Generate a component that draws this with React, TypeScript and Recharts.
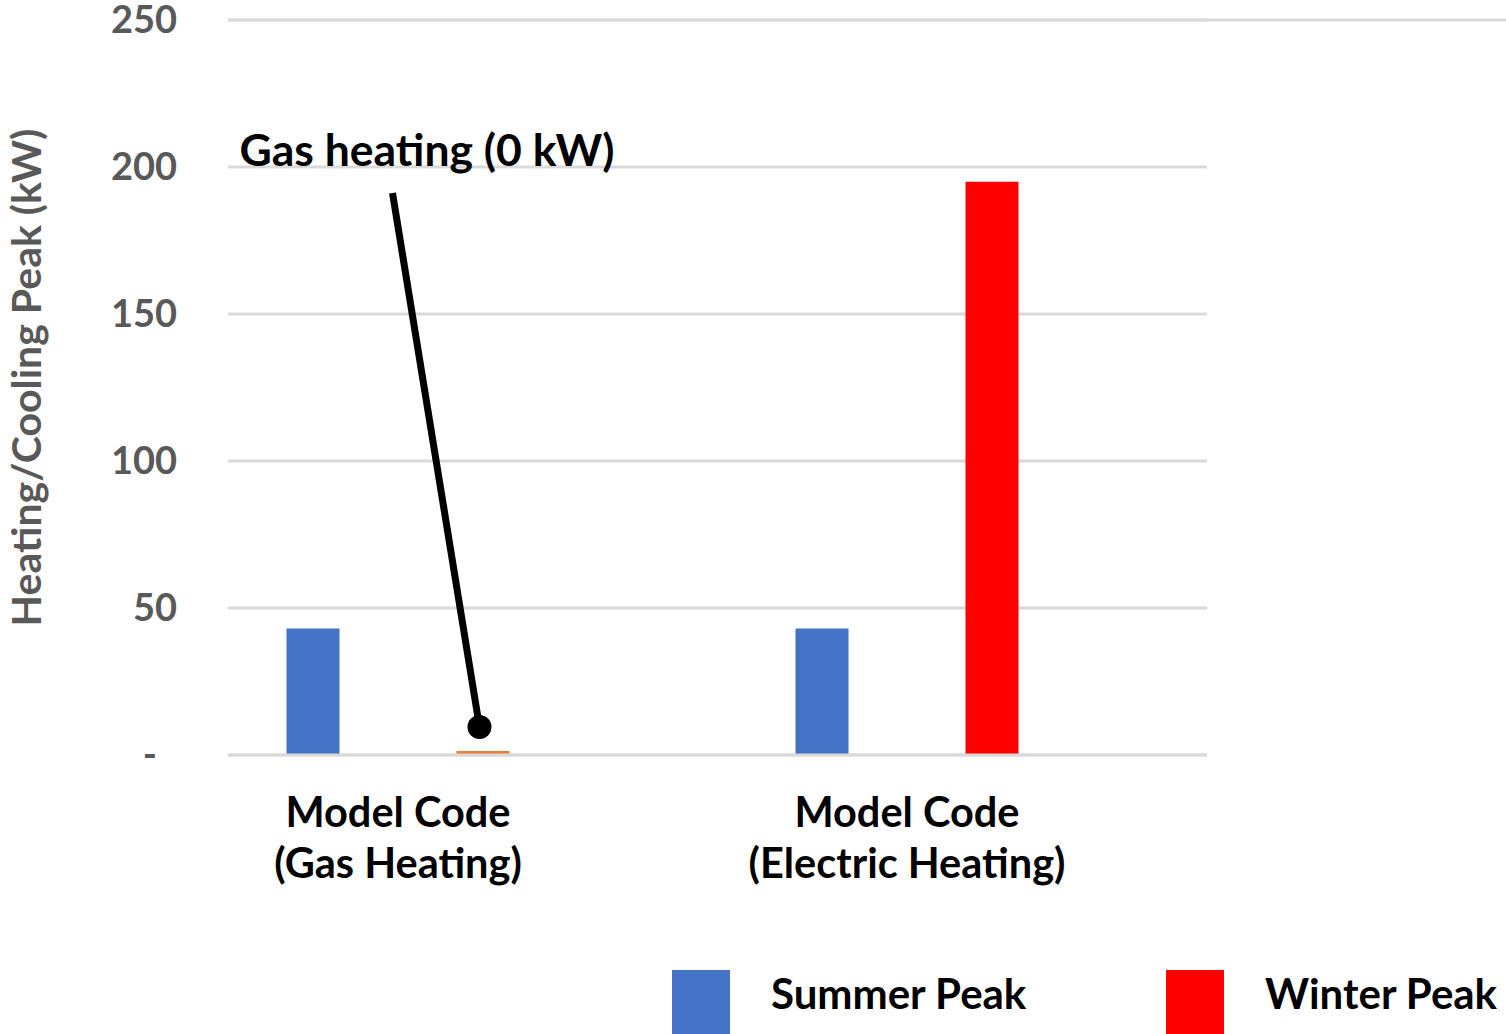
import {
  BarChart, Bar, XAxis, YAxis, CartesianGrid,
  ReferenceLine, Legend, Cell, LabelList, Label,
} from 'recharts'

const CATEGORIES   = ['Model Code\n(Gas Heating)', 'Model Code\n(Electric Heating)']
const SUMMER_PEAK  = [43, 43]
const WINTER_PEAK  = [0, 195]
const Y_TICKS      = [0, 50, 100, 150, 200, 250]
const NOTE         = 'Gas heating (0 kW)'

const DATA = CATEGORIES.map((name, i) => ({
  name,
  summer: SUMMER_PEAK[i],
  winter: WINTER_PEAK[i],
}))

const W = 1506
const H = 1034
const FONT = 'Lato, "Open Sans", sans-serif'
const GRID = '#D9D9D9'
const WINTER_FILLS = ['#ED7D31', '#FF0000']

function ValueTick({ x, y, payload }: any) {
  const zero = payload.value === 0
  return (
    <text x={zero ? x - 20 : x} y={y} dy="0.35em" textAnchor="end"
      fill="#595959" fontSize={38} fontWeight={700} fontFamily={FONT}>
      {zero ? '-' : payload.value}
    </text>
  )
}

function CategoryTick({ x, y, payload }: any) {
  const [l1, l2] = String(payload.value).split('\n')
  return (
    <text x={x} y={y} textAnchor="middle" fill="#000" fontSize={41.5} fontWeight={700} fontFamily={FONT}>
      <tspan x={x} dy={64}>{l1}</tspan>
      <tspan x={x} dy={51}>{l2}</tspan>
    </text>
  )
}

function AxisTitle({ viewBox }: any) {
  const cx = viewBox.x + 25
  const cy = viewBox.y + viewBox.height / 2 - 10
  return (
    <text x={cx} y={cy} transform={`rotate(-90, ${cx}, ${cy})`} textAnchor="middle"
      dominantBaseline="central" fill="#595959" fontSize={41} fontWeight={700} fontFamily={FONT}>
      Heating/Cooling Peak (kW)
    </text>
  )
}

// the 250 gridline runs on past the plot to the right edge
function TopLine(p: any) {
  return <line x1={p.x1} y1={p.y1} x2={W} y2={p.y2} stroke={GRID} strokeWidth={3} />
}

// callout pointing at the (zero) gas-heating winter bar
function renderNote(props: any) {
  const vb = props.viewBox ?? props
  if (props.index !== 0) return null
  const cx = vb.x + vb.width / 2 - 3.5
  const cy = vb.y + vb.height - 28
  return (
    <g>
      <line x1={cx - 87} y1={cy - 534} x2={cx} y2={cy} stroke="#000" strokeWidth={7} />
      <circle cx={cx} cy={cy} r={12} fill="#000" />
      <text x={cx - 240} y={cy - 561} fontSize={44.5} fontWeight={700} fill="#000" fontFamily={FONT}>{NOTE}</text>
    </g>
  )
}

function renderLegend({ payload }: any) {
  return (
    <div style={{ display: 'flex', fontFamily: FONT }}>
      {(payload ?? []).map((p: any, i: number) => (
        <div key={i} style={{ display: 'flex', width: 494, alignItems: 'flex-start', flexShrink: 0 }}>
          <div style={{ width: 58, height: 64, background: p.color }} />
          <span style={{ marginLeft: 41, marginTop: 2, fontSize: 42, lineHeight: '42px', fontWeight: 700, color: '#000' }}>
            {p.value}
          </span>
        </div>
      ))}
    </div>
  )
}

export default function App() {
  return (
    <div style={{ width: W, height: H, overflow: 'hidden', fontFamily: FONT, background: '#fff' }}>
      <style>{'body{margin:0}'}</style>
      <BarChart width={W} height={H} data={DATA} barSize={53} barGap={117}
        margin={{ top: 20, right: 299, bottom: 149, left: 0 }}>
        <CartesianGrid vertical={false} stroke={GRID} strokeWidth={3} />
        <XAxis
          dataKey="name"
          height={130}
          interval={0}
          padding={{ left: -84.5, right: 45.5 }}
          axisLine={{ stroke: GRID, strokeWidth: 3 }}
          tickLine={false}
          tick={<CategoryTick />}
        />
        <YAxis
          width={228}
          domain={[0, 250]}
          ticks={Y_TICKS}
          axisLine={false}
          tickLine={false}
          tickMargin={45}
          tick={<ValueTick />}
        >
          <Label content={<AxisTitle />} />
        </YAxis>
        <ReferenceLine y={250} shape={TopLine} />
        <Bar dataKey="summer" name="Summer Peak" fill="#4472C4" isAnimationActive={false} />
        <Bar dataKey="winter" name="Winter Peak" fill="#FF0000" minPointSize={4} isAnimationActive={false}>
          {DATA.map((_, i) => <Cell key={i} fill={WINTER_FILLS[i]} />)}
          <LabelList dataKey="winter" content={renderNote} />
        </Bar>
        <Legend
          verticalAlign="middle"
          layout="horizontal"
          content={renderLegend}
          wrapperStyle={{ top: 970, left: 672, width: 834, height: 64 }}
        />
      </BarChart>
    </div>
  )
}
